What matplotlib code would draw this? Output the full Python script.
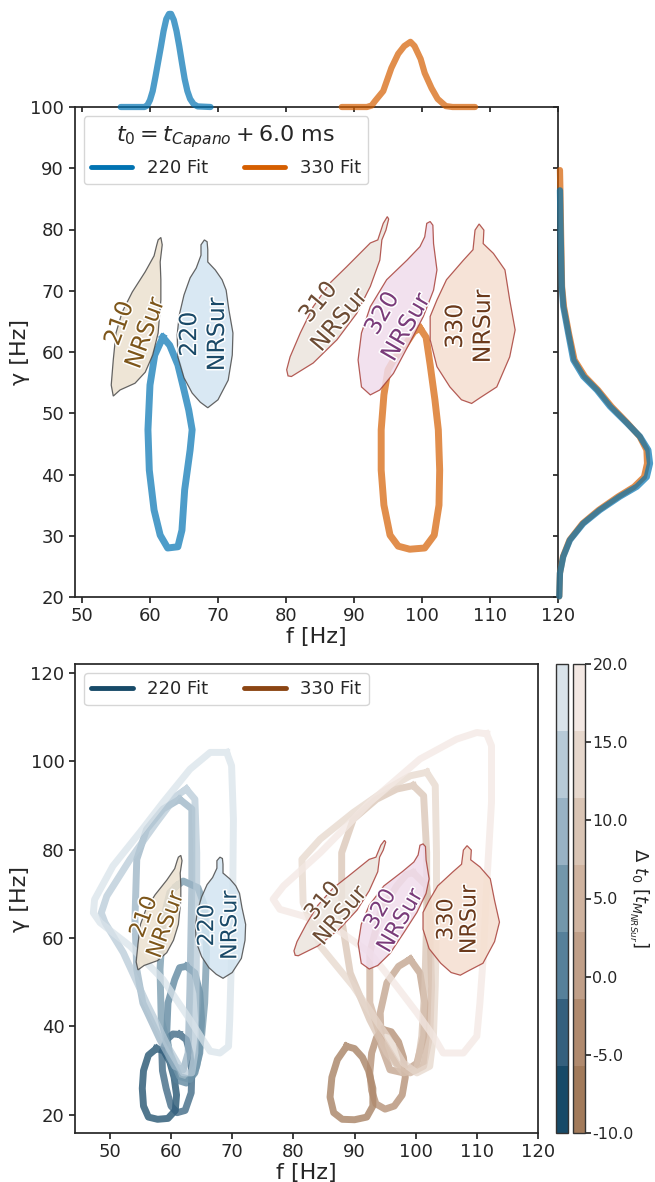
import matplotlib
matplotlib.use('Agg')
import matplotlib as mpl
import matplotlib.pyplot as plt
import matplotlib.patheffects as pe
from matplotlib.colors import ListedColormap, Normalize
from matplotlib.lines import Line2D
from matplotlib.patches import Polygon
from matplotlib.cm import ScalarMappable

plt.rcParams['font.family'] = ['DejaVu Sans']
for k in ['text.color', 'axes.labelcolor', 'xtick.color', 'ytick.color']:
    plt.rcParams[k] = '0.15'
plt.rcParams['axes.edgecolor'] = '0.15'
plt.rcParams['axes.linewidth'] = 1.25
plt.rcParams['xtick.major.width'] = 1.25
plt.rcParams['ytick.major.width'] = 1.25
plt.rcParams['xtick.major.size'] = 4
plt.rcParams['ytick.major.size'] = 4

# ---------------- data ----------------
# NRSur credible regions (f, gamma)
nr210_f = [61.6, 61.8, 61.5, 61.6, 61.6, 61.2, 60.4, 59.3, 57.8, 55.6, 54.6, 54.3, 54.6, 55.0, 55.9, 57.4, 59.3, 60.6, 61.0, 61.2]
nr210_g = [78.7, 77.5, 74.7, 71.8, 68.5, 63.1, 59.5, 56.7, 54.9, 53.8, 52.8, 54.6, 58.7, 63.1, 66.5, 69.8, 73.1, 75.7, 77.5, 78.3]
nr220_f = [68.0, 67.5, 67.5, 66.8, 65.9, 65.0, 64.3, 64.0, 64.1, 65.0, 66.2, 67.4, 68.5, 70.0, 71.5, 72.1, 72.2, 71.6, 71.2, 70.6, 69.6, 68.5, 68.5, 68.4]
nr220_g = [78.3, 77.5, 75.8, 73.7, 72.1, 69.3, 66.0, 62.8, 59.2, 55.8, 53.3, 51.8, 50.9, 52.2, 55.4, 59.5, 63.1, 66.9, 70.1, 71.8, 73.4, 74.7, 76.7, 78.0]
nr310_f = [94.9, 94.3, 93.5, 92.4, 88.9, 86.5, 84.0, 82.1, 80.6, 80.1, 80.3, 80.8, 84.0, 87.5, 90.4, 92.4, 93.8, 94.1, 94.7, 95.1]
nr310_g = [82.1, 81.0, 78.3, 77.8, 73.9, 71.3, 67.4, 63.1, 59.2, 57.1, 56.1, 56.0, 58.2, 62.0, 66.3, 70.7, 75.0, 78.3, 79.9, 81.7]
nr320_f = [101.2, 101.6, 101.7, 102.2, 101.7, 100.2, 98.2, 95.8, 93.8, 92.4, 91.1, 90.6, 91.1, 92.4, 94.8, 97.8, 99.7, 100.4, 100.7]
nr320_g = [81.3, 80.7, 77.7, 73.4, 70.1, 65.8, 61.5, 56.5, 53.8, 53.0, 54.3, 58.7, 63.1, 67.4, 71.8, 75.0, 77.2, 78.8, 81.0]
nr330_f = [108.4, 109.1, 109.0, 110.5, 112.2, 112.9, 113.7, 112.9, 111.0, 108.5, 107.3, 105.8, 104.1, 102.2, 101.2, 101.2, 102.2, 103.6, 106.1, 107.5, 107.8]
nr330_g = [80.9, 79.9, 77.7, 76.1, 73.4, 68.5, 63.6, 59.2, 54.3, 52.5, 51.6, 52.2, 54.3, 57.6, 62.0, 65.8, 68.5, 71.8, 75.0, 76.7, 79.9]

label_names = ['210\nNRSur', '220\nNRSur', '310\nNRSur', '320\nNRSur', '330\nNRSur']
label_f = [57.4, 67.8, 86.3, 95.9, 106.9]
label_g = [63.9, 62.9, 66.7, 65.2, 64.2]
label_rot = [70, 90, 50, 60, 90]

# top panel fit contours (t0 = t_Capano + 6 ms)
fit220_f = [61.9, 60.7, 60.0, 59.7, 59.9, 60.6, 61.5, 62.6, 64.1, 64.7, 65.1, 65.9, 66.2, 65.7, 65.0, 64.1, 62.9]
fit220_g = [62.4, 59.5, 54.6, 47.3, 40.7, 34.2, 30.1, 28.0, 28.2, 30.9, 37.5, 44.0, 47.3, 50.5, 53.8, 57.9, 61.1]
fit330_f = [99.7, 100.6, 101.2, 101.9, 102.4, 102.6, 102.5, 101.8, 100.4, 98.2, 96.5, 95.3, 94.4, 94.0, 94.0, 94.4, 95.0, 96.0, 97.5, 98.8]
fit330_g = [63.9, 62.4, 57.9, 52.2, 47.3, 40.7, 35.0, 30.1, 28.0, 27.8, 28.3, 30.1, 35.0, 40.7, 47.3, 53.0, 57.1, 59.0, 61.1, 63.3]

# marginal densities
mf220_f = [55.7, 59.2, 59.6, 60.0, 60.4, 60.8, 61.2, 61.6, 62.0, 62.4, 62.8, 63.1, 63.5, 63.9, 64.3, 64.7, 65.1, 65.5, 65.9, 66.4, 67.0, 68.9]
mf220_d = [0, 0, 0.005, 0.023, 0.053, 0.10, 0.15, 0.20, 0.253, 0.293, 0.31, 0.31, 0.29, 0.253, 0.203, 0.147, 0.093, 0.053, 0.027, 0.01, 0.002, 0]
mf330_f = [88.2, 91.9, 92.6, 93.1, 94.3, 95.5, 96.5, 97.4, 98.3, 98.9, 99.8, 100.4, 101.4, 102.3, 103.5, 104.5, 107.8]
mf330_d = [0, 0, 0.005, 0.02, 0.053, 0.13, 0.177, 0.203, 0.217, 0.203, 0.16, 0.113, 0.063, 0.027, 0.003, 0, 0]
mg220_g = [20.1, 23.9, 26.6, 29.3, 32.0, 34.2, 36.4, 38.0, 39.6, 41.8, 44.0, 46.2, 48.4, 51.1, 53.8, 56.0, 58.7, 63.0, 67.4, 70.7, 79.4, 86.4]
mg220_d = [0.0009, 0.0014, 0.0038, 0.0086, 0.0182, 0.0302, 0.0446, 0.0567, 0.0639, 0.0662, 0.0650, 0.0590, 0.0495, 0.0374, 0.0279, 0.0182, 0.0110, 0.0074, 0.0038, 0.0027, 0.0019, 0.0014]
mg330_g = [20.1, 23.9, 26.6, 29.3, 32.0, 34.2, 36.4, 38.0, 39.6, 41.8, 44.0, 46.2, 48.4, 51.1, 53.8, 56.0, 58.7, 63.0, 67.4, 70.7, 79.4, 86.4, 89.7]
mg330_d = [0.0009, 0.0014, 0.0036, 0.0083, 0.0176, 0.0292, 0.0432, 0.0547, 0.0619, 0.0641, 0.0637, 0.0587, 0.0500, 0.0385, 0.0288, 0.0194, 0.0119, 0.0079, 0.0043, 0.0029, 0.0022, 0.0017, 0.0014]

# bottom panel: fit contours for several start times
dt_values = [-10, -5, 0, 5, 10, 15, 20]
b220_m10_f = [57.6, 58.8, 59.8, 60.5, 60.9, 60.7, 59.5, 57.8, 56.3, 55.5, 55.3, 55.5, 56.3]
b220_m10_g = [35.0, 34.5, 32.0, 28.5, 24.5, 21.0, 19.2, 19.0, 19.5, 22.0, 26.0, 30.0, 33.5]
b220_m5_f = [61.4, 62.5, 63.1, 63.4, 63.3, 62.3, 61.0, 60.0, 59.2, 58.6, 58.5, 59.3, 60.3]
b220_m5_g = [38.2, 37.0, 34.0, 29.5, 25.0, 21.0, 20.5, 22.0, 26.0, 30.0, 34.0, 37.0, 38.3]
b220_0_f = [62.5, 63.9, 64.7, 65.0, 64.7, 63.9, 62.5, 60.9, 59.8, 59.3, 59.5, 60.6, 61.4]
b220_0_g = [53.6, 52.1, 47.6, 41.5, 34.0, 29.5, 27.2, 27.9, 32.5, 38.5, 45.3, 50.6, 53.3]
b220_5_f = [60.9, 62.0, 63.1, 64.4, 65.5, 65.8, 65.5, 65.0, 64.2, 63.1, 61.4, 59.8, 58.4, 58.2, 58.7, 59.8]
b220_5_g = [71.8, 72.9, 72.2, 71.4, 67.2, 56.7, 45.3, 37.8, 31.0, 28.0, 28.7, 34.0, 41.5, 52.9, 64.2, 70.3]
b220_10_f = [61.4, 63.4, 63.4, 63.1, 62.8, 62.0, 60.6, 58.2, 55.4, 54.4, 54.1, 54.4, 56.0, 58.7]
b220_10_g = [91.4, 89.2, 71.8, 49.1, 34.0, 30.2, 31.0, 37.0, 45.3, 52.9, 64.2, 77.8, 84.6, 89.2]
b220_15_f = [62.5, 63.9, 64.2, 64.2, 64.1, 63.9, 63.4, 62.0, 59.8, 56.0, 52.2, 49.2, 48.6, 49.5, 53.3, 57.6, 60.9]
b220_15_g = [93.7, 91.4, 79.3, 64.2, 49.1, 34.0, 29.5, 29.5, 34.7, 45.3, 56.7, 63.5, 65.7, 69.5, 77.8, 86.1, 92.2]
b220_20_f = [69.1, 69.9, 70.2, 70.1, 69.9, 69.6, 69.4, 68.0, 66.4, 63.1, 58.7, 53.3, 48.4, 47.3, 47.5, 50.5, 54.9, 58.7, 63.1, 66.4]
b220_20_g = [102.0, 99.0, 86.9, 71.8, 56.7, 41.5, 35.5, 34.0, 34.4, 41.5, 50.6, 58.2, 63.5, 65.7, 68.7, 76.3, 83.9, 90.7, 98.2, 102.0]

b330_m10_f = [88.7, 90.0, 91.3, 92.3, 93.0, 93.0, 92.0, 90.0, 88.0, 86.6, 86.0, 86.3, 87.2]
b330_m10_g = [35.5, 35.0, 33.0, 30.0, 26.0, 22.0, 19.5, 18.9, 19.0, 20.5, 24.0, 28.5, 32.5]
b330_m5_f = [94.7, 96.0, 97.2, 98.0, 98.3, 97.8, 96.5, 95.0, 93.5, 92.8, 92.5, 92.8, 93.6]
b330_m5_g = [39.3, 38.8, 36.5, 33.0, 28.5, 24.5, 22.0, 21.3, 22.5, 25.5, 29.5, 34.0, 37.5]
b330_0_f = [99.1, 100.7, 101.5, 101.3, 100.2, 98.0, 95.8, 94.4, 94.2, 95.3, 97.2]
b330_0_g = [55.2, 52.1, 45.3, 37.8, 31.7, 29.5, 30.2, 35.5, 43.1, 49.9, 53.6]
b330_5_f = [99.6, 101.8, 102.3, 102.6, 102.3, 101.3, 99.1, 96.9, 94.2, 92.5, 92.5, 94.2, 96.9, 98.5]
b330_5_g = [74.8, 71.8, 64.2, 49.1, 37.8, 31.0, 29.5, 31.7, 37.8, 45.3, 56.7, 65.7, 71.8, 74.4]
b330_10_f = [99.6, 101.3, 101.8, 101.8, 101.5, 101.0, 100.2, 98.0, 95.3, 92.5, 89.3, 87.9, 87.9, 89.8, 93.6, 96.9]
b330_10_g = [94.5, 92.2, 79.3, 64.2, 49.1, 37.8, 30.2, 29.5, 34.0, 41.5, 52.1, 64.2, 79.3, 86.9, 91.4, 93.7]
b330_15_f = [101.8, 103.2, 103.4, 103.4, 103.2, 102.9, 102.3, 100.2, 98.0, 95.3, 89.8, 84.4, 81.6, 81.4, 84.4, 89.8, 95.3, 99.1]
b330_15_g = [97.5, 94.5, 79.3, 64.2, 49.1, 37.8, 31.0, 29.5, 31.7, 37.8, 49.1, 58.2, 68.0, 77.8, 82.4, 88.4, 93.7, 96.7]
b330_20_f = [111.6, 112.4, 112.4, 111.6, 111.1, 110.5, 110.0, 107.8, 104.5, 102.9, 100.2, 96.9, 92.5, 87.1, 81.6, 77.8, 76.7, 78.4, 84.4, 92.5, 100.7, 106.7, 110.0]
b330_20_g = [106.2, 103.5, 90.7, 71.8, 56.7, 45.3, 37.8, 34.0, 34.0, 37.8, 43.1, 49.1, 56.7, 62.0, 65.0, 66.5, 68.8, 71.8, 79.3, 90.7, 100.5, 105.0, 106.5]

b220_loops = [(b220_m10_f, b220_m10_g), (b220_m5_f, b220_m5_g), (b220_0_f, b220_0_g), (b220_5_f, b220_5_g),
              (b220_10_f, b220_10_g), (b220_15_f, b220_15_g), (b220_20_f, b220_20_g)]
b330_loops = [(b330_m10_f, b330_m10_g), (b330_m5_f, b330_m5_g), (b330_0_f, b330_0_g), (b330_5_f, b330_5_g),
              (b330_10_f, b330_10_g), (b330_15_f, b330_15_g), (b330_20_f, b330_20_g)]

blue_cols = ['#174a68', '#34607e', '#56809a', '#7397ab', '#98b2c4', '#b7cad7', '#d9e3ea']
brown_cols = ['#a27a5a', '#b08a6e', '#c09f88', '#cfb39f', '#d9c4b4', '#e6d7cc', '#f3e8e3']

# ---------------- styling ----------------
C220 = '#0173b2'
C330 = '#d55e00'
patch_style = [
    dict(fc='#ece1cf', ec='#4a4a4a', tc='#7d561a'),
    dict(fc='#d3e5f1', ec='#4a4a4a', tc='#1b4a68'),
    dict(fc='#ece4dd', ec='#a8413a', tc='#6d4c34'),
    dict(fc='#f0dcec', ec='#a8413a', tc='#7a3c7a'),
    dict(fc='#f5dfd0', ec='#a8413a', tc='#6b3a1c'),
]
nr_f = [nr210_f, nr220_f, nr310_f, nr320_f, nr330_f]
nr_g = [nr210_g, nr220_g, nr310_g, nr320_g, nr330_g]


def closed(a):
    return list(a) + [a[0]]


def draw_nrsur(ax, fs):
    for i in range(5):
        st = patch_style[i]
        poly = Polygon(list(zip(nr_f[i], nr_g[i])), closed=True, facecolor=st['fc'], edgecolor=st['ec'],
                       lw=0.9, alpha=0.85, zorder=3)
        ax.add_patch(poly)
        ax.text(label_f[i], label_g[i], label_names[i], rotation=label_rot[i], rotation_mode='anchor',
                ha='center', va='center', multialignment='center', fontsize=fs, color=st['tc'],
                path_effects=[pe.withStroke(linewidth=2.2, foreground='w')], zorder=5)


W, H = 655, 1182
fig = plt.figure(figsize=(W / 100, H / 100), dpi=100)

# ---------------- top panel ----------------
ax1 = fig.add_axes([74.5 / W, 1 - 597 / H, 483.5 / W, 490 / H])
axt = fig.add_axes([74.5 / W, 1 - 107 / H, 483.5 / W, 100 / H], sharex=ax1)
axr = fig.add_axes([558 / W, 1 - 597 / H, 97 / W, 490 / H], sharey=ax1)

ax1.plot(closed(fit220_f), closed(fit220_g), color=C220, lw=5, alpha=0.7, solid_joinstyle='round', zorder=2)
ax1.plot(closed(fit330_f), closed(fit330_g), color=C330, lw=5, alpha=0.7, solid_joinstyle='round', zorder=2)
draw_nrsur(ax1, 17)

ax1.set_xlim(48.9, 120)
ax1.set_ylim(20, 100)
ax1.set_xticks(range(50, 121, 10))
ax1.set_yticks(range(20, 101, 10))
ax1.tick_params(labelsize=13)
ax1.set_xlabel('f [Hz]', fontsize=16, labelpad=1)
ax1.set_ylabel('γ [Hz]', fontsize=16, labelpad=0)

handles = [Line2D([], [], color=C220, lw=3.5, solid_capstyle='round'),
           Line2D([], [], color=C330, lw=3.5, solid_capstyle='round')]
ax1.legend(handles, ['220 Fit', '330 Fit'], ncol=2, loc='upper left', fontsize=13,
           title=r'$t_0 = t_{Capano} + 6.0$ ms', title_fontsize=16, handlelength=2.3)

axt.plot(mf220_f, mf220_d, color=C220, lw=4.5, alpha=0.7, clip_on=False, solid_capstyle='round')
axt.plot(mf330_f, mf330_d, color=C330, lw=4.5, alpha=0.7, clip_on=False, solid_capstyle='round')
axt.set_ylim(0, 0.333)
for s in axt.spines.values():
    s.set_visible(False)
axt.patch.set_visible(False)
axt.tick_params(axis='x', labelbottom=False, length=3.5)
axt.tick_params(axis='y', left=False, labelleft=False)

axr.plot(mg330_d, mg330_g, color=C330, lw=4.5, alpha=0.7, clip_on=False, solid_capstyle='round')
axr.plot(mg220_d, mg220_g, color=C220, lw=4.5, alpha=0.7, clip_on=False, solid_capstyle='round')
axr.set_xlim(0, 0.0698)
for s in axr.spines.values():
    s.set_visible(False)
axr.patch.set_visible(False)
axr.tick_params(axis='y', labelleft=False, length=3.5)
axr.tick_params(axis='x', bottom=False, labelbottom=False)

# ---------------- bottom panel ----------------
ax2 = fig.add_axes([75 / W, 1 - 1133 / H, 463 / W, 469 / H])
cmap220 = ListedColormap(blue_cols)
cmap330 = ListedColormap(brown_cols)
norm = Normalize(-10, 20)

for dt, (ff, gg) in zip(dt_values, b220_loops):
    ax2.plot(closed(ff), closed(gg), color=cmap220(norm(dt)), lw=5, alpha=0.75,
             solid_joinstyle='round', zorder=2)
for dt, (ff, gg) in zip(dt_values, b330_loops):
    ax2.plot(closed(ff), closed(gg), color=cmap330(norm(dt)), lw=5, alpha=0.75,
             solid_joinstyle='round', zorder=2)
draw_nrsur(ax2, 16)

ax2.set_xlim(44.3, 120)
ax2.set_ylim(15.9, 122.0)
ax2.set_xticks(range(50, 121, 10))
ax2.set_yticks(range(20, 121, 20))
ax2.tick_params(labelsize=13)
ax2.set_xlabel('f [Hz]', fontsize=16, labelpad=1)
ax2.set_ylabel('γ [Hz]', fontsize=16, labelpad=0)
handles2 = [Line2D([], [], color='#174a68', lw=3.5, solid_capstyle='round'),
            Line2D([], [], color='#8b4513', lw=3.5, solid_capstyle='round')]
ax2.legend(handles2, ['220 Fit', '330 Fit'], ncol=2, loc='upper left', fontsize=13, handlelength=2.3)

cax1 = fig.add_axes([555.5 / W, 1 - 1133 / H, 12 / W, 469 / H])
cax2 = fig.add_axes([572.8 / W, 1 - 1133 / H, 12 / W, 469 / H])
cb1 = fig.colorbar(ScalarMappable(norm=norm, cmap=cmap220), cax=cax1, ticks=[])
cb2 = fig.colorbar(ScalarMappable(norm=norm, cmap=cmap330), cax=cax2, ticks=dt_values, format='%.1f')
cax2.tick_params(labelsize=11.5, pad=1.5)
cb2.set_label(r'$\Delta$ $t_0$ [$t_{M_{NRSur}}$]', fontsize=13, rotation=270, va='bottom')
cax2.yaxis.set_label_coords(4.55, 0.5)
for cb in (cb1, cb2):
    cb.outline.set_edgecolor('0.2')
    cb.outline.set_linewidth(1.0)

fig.savefig('out.png', dpi=100)
